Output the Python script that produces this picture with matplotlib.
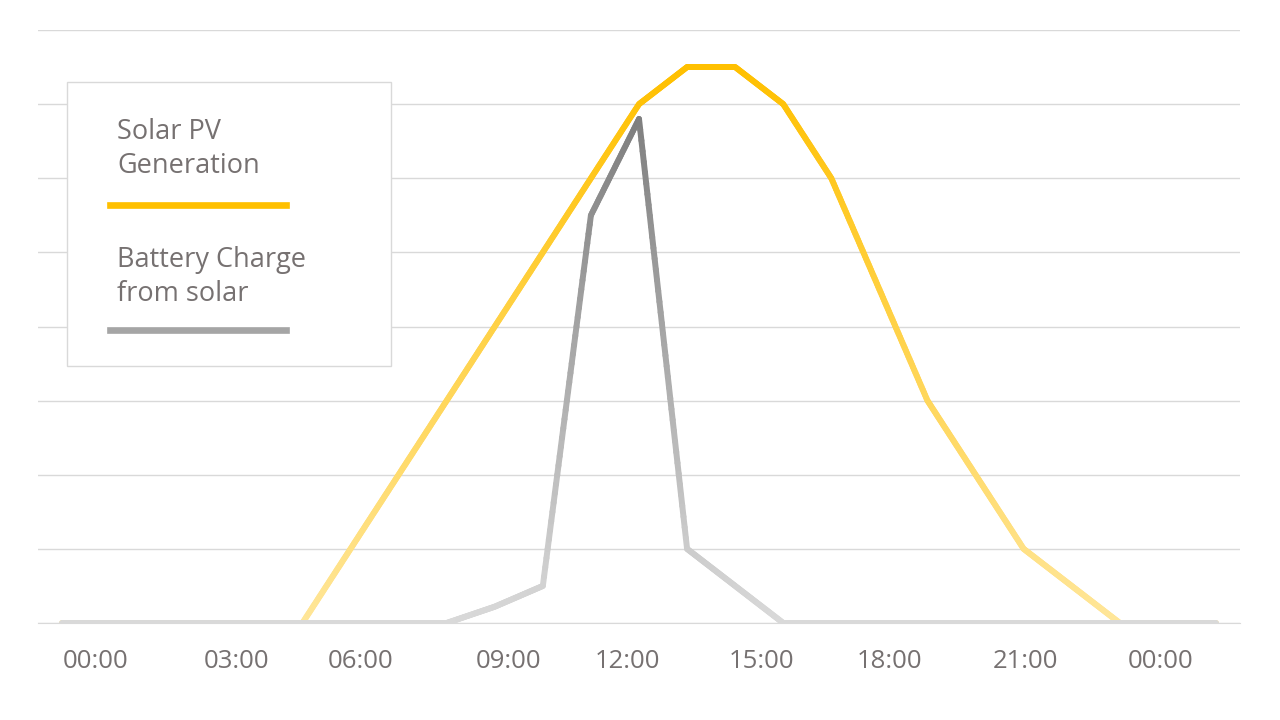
import numpy as np
import matplotlib
matplotlib.use("Agg")
import matplotlib.pyplot as plt
from matplotlib.collections import LineCollection
from matplotlib.colors import LinearSegmentedColormap
from matplotlib.patches import Rectangle

# hourly values, 00:00 .. 24:00
hours = list(range(25))
solar_pv = [0, 0, 0, 0, 0, 0, 1, 2, 3, 4, 5, 6, 7, 7.5, 7.5, 7, 6, 4.5, 3, 2, 1, 0.5, 0, 0, 0]
battery = [0, 0, 0, 0, 0, 0, 0, 0, 0, 0.22, 0.5, 5.5, 6.8, 1, 0.5, 0, 0, 0, 0, 0, 0, 0, 0, 0, 0]

tick_labels = ["00:00", "03:00", "06:00", "09:00", "12:00", "15:00", "18:00", "21:00", "00:00"]
tick_pos = [0.69, 3.62, 6.2, 9.28, 11.77, 14.54, 17.22, 20.03, 22.84]

text_col = "#767171"
plt.rcParams["font.family"] = ["Open Sans", "DejaVu Sans"]


def gradient_line(ax, x, y, c_lo, c_hi, vmax, lw, steps=40):
    # split each segment so the colour can follow the height
    xs, ys = [], []
    for i in range(len(x) - 1):
        t = np.linspace(0, 1, steps, endpoint=False)
        xs.append(x[i] + (x[i + 1] - x[i]) * t)
        ys.append(y[i] + (y[i + 1] - y[i]) * t)
    xs.append([x[-1]])
    ys.append([y[-1]])
    xs = np.concatenate(xs)
    ys = np.concatenate(ys)
    pts = np.column_stack([xs, ys]).reshape(-1, 1, 2)
    segs = np.concatenate([pts[:-1], pts[1:]], axis=1)
    cmap = LinearSegmentedColormap.from_list("g", [c_lo, c_hi])
    lc = LineCollection(segs, cmap=cmap, linewidths=lw, capstyle="round", joinstyle="round")
    lc.set_array((ys[:-1] + ys[1:]) / 2)
    lc.set_clim(0, vmax)
    ax.add_collection(lc)


fig = plt.figure(figsize=(12.8, 7.2), dpi=100)
ax = fig.add_axes([38 / 1280, 1 - 623 / 720, 1202 / 1280, 593 / 720])

gradient_line(ax, hours, solar_pv, "#FFE699", "#FFC000", 7.5, 4.3)
gradient_line(ax, hours, battery, "#D9D9D9", "#7F7F7F", 6.8, 4.3)

ax.set_xlim(-0.5, 24.5)
ax.set_ylim(0, 8)
ax.set_yticks(range(0, 9))
ax.yaxis.grid(True, color="#D9D9D9", linewidth=1)
ax.set_axisbelow(True)
ax.tick_params(axis="y", left=False, labelleft=False)
ax.set_xticks(tick_pos)
ax.set_xticklabels(tick_labels, fontsize=18.5, color=text_col)
ax.tick_params(axis="x", length=0, pad=19)
for s in ["top", "right", "left"]:
    ax.spines[s].set_visible(False)
ax.spines["bottom"].set_color("#D9D9D9")

# legend box
fig.patches.append(Rectangle((67 / 1280, 1 - 366 / 720), 324 / 1280, 284 / 720,
                             transform=fig.transFigure, facecolor="white",
                             edgecolor="#D9D9D9", linewidth=1, zorder=5))
fig.text(117 / 1280, 1 - 149 / 720, "Solar PV\nGeneration", fontsize=19.5,
         color=text_col, va="center", ha="left", linespacing=1.25, zorder=6)
fig.add_artist(plt.Line2D([110 / 1280, 286 / 1280], [1 - 205 / 720] * 2,
                          color="#FFC000", linewidth=4.8, zorder=6))
fig.text(117 / 1280, 1 - 277 / 720, "Battery Charge\nfrom solar", fontsize=19.5,
         color=text_col, va="center", ha="left", linespacing=1.25, zorder=6)
fig.add_artist(plt.Line2D([110 / 1280, 286 / 1280], [1 - 330 / 720] * 2,
                          color="#A5A5A5", linewidth=4.8, zorder=6))

fig.savefig("out.png", dpi=100)
